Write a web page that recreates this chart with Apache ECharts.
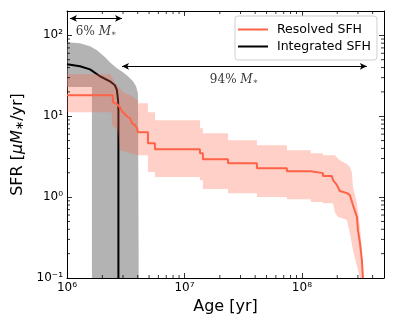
<!DOCTYPE html>
<html>
<head>
<meta charset="utf-8">
<script src="https://cdn.jsdelivr.net/npm/echarts@6/dist/echarts.min.js"></script>
<style>
  html, body { margin: 0; padding: 0; background: #fff; }
  #chart { width: 395px; height: 329px; }
</style>
</head>
<body>
<div id="chart"></div>
<script>
// resolved SFH (red step line) and its band
const resolvedAge = [1.0e6, 2.46e6, 2.46e6, 2.66e6, 2.83e6, 2.94e6, 3.06e6, 3.24e6, 3.44e6, 3.57e6, 3.79e6, 3.94e6, 4.02e6,
  4.89e6, 4.89e6, 5.61e6, 5.61e6, 1.355e7, 1.355e7, 1.436e7, 1.436e7, 2.35e7, 2.35e7, 4.14e7, 4.14e7, 7.45e7, 7.45e7,
  1.19e8, 1.19e8, 1.51e8, 1.51e8, 1.80e8, 1.84e8, 1.99e8, 2.10e8, 2.42e8, 2.56e8, 2.72e8, 2.94e8, 3.00e8, 3.12e8, 3.24e8, 3.31e8]
const resolvedSfr = [18.2, 18.2, 14.9, 14.1, 12.9, 11.5, 10.9, 10.0, 9.44, 8.20, 7.75, 7.11, 6.34,
  6.34, 4.64, 4.64, 3.92, 3.92, 3.49, 3.49, 2.94, 2.94, 2.63, 2.63, 2.28, 2.28, 2.09,
  2.09, 1.98, 1.98, 1.82, 1.82, 1.62, 1.41, 1.19, 1.12, 1.06, 0.80, 0.57, 0.39, 0.27, 0.167, 0.1]
const resolvedUpper = [[1e6, 33.0], [2.32e6, 33.0], [2.46e6, 29.5], [2.56e6, 25.5], [2.83e6, 22.2], [3.00e6, 19.8],
  [3.44e6, 18.2], [4.02e6, 15.8], [4.02e6, 14.5], [4.89e6, 14.5], [4.89e6, 11.2], [5.61e6, 11.2], [5.61e6, 8.93],
  [1.355e7, 8.93], [1.355e7, 7.11], [1.436e7, 7.11], [1.436e7, 6.17], [2.35e7, 6.17], [2.35e7, 5.06], [4.14e7, 5.06],
  [4.14e7, 4.39], [7.45e7, 4.39], [7.45e7, 3.80], [1.19e8, 3.80], [1.19e8, 3.49], [1.51e8, 3.49], [1.51e8, 3.30],
  [1.91e8, 3.30], [2.10e8, 2.86], [2.42e8, 2.56], [2.56e8, 2.35], [2.67e8, 1.98], [2.72e8, 1.33], [2.94e8, 0.84],
  [3.12e8, 0.43], [3.24e8, 0.22], [3.31e8, 0.1]]
const resolvedLower = [[1e6, 11.2], [2.41e6, 11.2], [2.41e6, 7.75], [2.72e6, 6.71], [2.83e6, 3.80], [4.02e6, 3.30],
  [4.89e6, 3.30], [4.89e6, 2.04], [5.61e6, 2.04], [5.61e6, 1.77], [1.355e7, 1.77], [1.355e7, 1.62], [1.436e7, 1.62],
  [1.436e7, 1.26], [2.35e7, 1.26], [2.35e7, 1.12], [4.14e7, 1.12], [4.14e7, 1.00], [7.45e7, 1.00], [7.45e7, 0.944],
  [1.19e8, 0.944], [1.19e8, 0.87], [1.51e8, 0.87], [1.51e8, 0.84], [1.84e8, 0.84], [1.91e8, 0.65], [2.02e8, 0.57],
  [2.42e8, 0.52], [2.56e8, 0.36], [2.72e8, 0.22], [3.00e8, 0.126], [3.12e8, 0.1]]

// integrated SFH (black line) and its band
const integratedAge = [1e6, 1.29e6, 1.57e6, 1.91e6, 2.32e6, 2.56e6, 2.66e6, 2.72e6, 2.74e6, 2.74e6]
const integratedSfr = [43.8, 41.4, 38.0, 31.2, 27.0, 24.1, 21.0, 15.8, 11.9, 0.1]
const integratedUpper = [[1e6, 82], [1.29e6, 79.6], [1.57e6, 73.1], [1.80e6, 65.3], [2.11e6, 53.5], [2.32e6, 46.4],
  [2.66e6, 39.2], [3.00e6, 34.9], [3.30e6, 31.2], [3.65e6, 27.0], [3.87e6, 23.4], [4.02e6, 19.2], [4.08e6, 0.1]]
const integratedLower = [[1e6, 23], [1.63e6, 23], [1.63e6, 0.1], [4.08e6, 0.1]]

// mass fraction notes
const noteText = ['6%', '94%']
const noteAge = [1.77e6, 2.64e7]
const noteSfr = [109, 27.8]
const arrowFrom = [1.06e6, 2.94e6]
const arrowTo = [2.94e6, 3.57e8]
const arrowSfr = [162, 41.4]

// ticks
const xTickValues = [1e6, 1e7, 1e8]
const xTickLabels = ['10⁶', '10⁷', '10⁸']
const yTickValues = [0.1, 1, 10, 100]
const yTickLabels = ['10⁻¹', '10⁰', '10¹', '10²']
const xMinorTicks = [2e6, 3e6, 4e6, 5e6, 6e6, 7e6, 8e6, 9e6, 2e7, 3e7, 4e7, 5e7, 6e7, 7e7, 8e7, 9e7, 2e8, 3e8, 4e8]
const yMinorTicks = [0.2, 0.3, 0.4, 0.5, 0.6, 0.7, 0.8, 0.9, 2, 3, 4, 5, 6, 7, 8, 9, 20, 30, 40, 50, 60, 70, 80, 90]

const RED = '#ff6347'
const SANS = 'DejaVu Sans'
const SERIF = 'DejaVu Serif'

const zip = (a, b) => a.map((v, i) => [v, b[i]])

const tickLabel = (values, labels) => v => {
  const i = values.findIndex(t => Math.abs(v / t - 1) < 1e-6)
  return i < 0 ? '' : labels[i]
}

const band = (upper, lower, color) => (params, api) => ({
  type: 'polygon',
  shape: {points: upper.concat(lower.slice().reverse()).map(p => api.coord(p))},
  style: {fill: color}
})

const tick = (x1, y1, x2, y2) => ({
  type: 'line',
  shape: {x1, y1, x2, y2},
  style: {stroke: '#000', lineWidth: 0.8}
})

const minorTicks = (params, api) => {
  const cs = params.coordSys
  const top = cs.y, bottom = cs.y + cs.height, left = cs.x, right = cs.x + cs.width
  const children = []
  xMinorTicks.forEach(v => {
    const x = api.coord([v, 1])[0]
    children.push(tick(x, bottom, x, bottom - 3), tick(x, top, x, top + 3))
  })
  yMinorTicks.forEach(v => {
    const y = api.coord([1e6, v])[1]
    children.push(tick(left, y, left + 3, y), tick(right, y, right - 3, y))
  })
  return {type: 'group', children}
}

const axisCommon = {
  type: 'log',
  logBase: 10,
  axisLine: {show: true, onZero: false, lineStyle: {color: '#000', width: 1}},
  axisTick: {show: true, inside: true, length: 5, lineStyle: {color: '#000', width: 0.8}},
  splitLine: {show: false}
}

const charts = echarts.init(document.getElementById('chart'), null, {renderer: 'canvas'})

const options = {
  animation: false,
  grid: {left: 67, right: 11, top: 11, bottom: 51},
  legend: {
    data: ['Resolved SFH', 'Integrated SFH'],
    orient: 'vertical',
    left: 235,
    top: 16,
    padding: [7, 6, 7, 3],
    icon: 'rect',
    itemGap: 4,
    itemWidth: 30,
    itemHeight: 2,
    borderColor: '#d0d0d0',
    borderWidth: 1,
    borderRadius: 3,
    backgroundColor: 'rgba(255,255,255,0.8)',
    textStyle: {fontFamily: SANS, fontSize: 12.5, color: '#000', padding: [0, 0, 0, 4]}
  },
  xAxis: [
    {
      ...axisCommon,
      min: 1e6,
      max: 5e8,
      name: 'Age [yr]',
      nameLocation: 'middle',
      nameGap: 11,
      nameTextStyle: {fontFamily: SANS, fontSize: 16, color: '#000'},
      axisLabel: {formatter: tickLabel(xTickValues, xTickLabels), fontFamily: SANS, fontSize: 12, color: '#000', margin: 4}
    },
    {...axisCommon, min: 1e6, max: 5e8, position: 'top', axisLabel: {show: false}}
  ],
  yAxis: [
    {
      ...axisCommon,
      min: 0.1,
      max: 200,
      name: 'SFR [{i|μM}{s|∗}/yr]',
      nameLocation: 'middle',
      nameGap: 36,
      nameRotate: 90,
      nameTextStyle: {
        fontFamily: SANS, fontSize: 16, color: '#000',
        rich: {
          i: {fontFamily: SANS, fontStyle: 'italic', fontSize: 16, color: '#000'},
          s: {fontFamily: SANS, fontSize: 11, color: '#000', verticalAlign: 'bottom'}
        }
      },
      axisLabel: {formatter: tickLabel(yTickValues, yTickLabels), fontFamily: SANS, fontSize: 12, color: '#000', margin: 4}
    },
    {...axisCommon, min: 0.1, max: 200, position: 'right', axisLabel: {show: false}}
  ],
  series: [
    {
      name: 'integratedBand',
      type: 'custom',
      silent: true,
      z: 1,
      renderItem: band(integratedUpper, integratedLower, 'rgba(128,128,128,0.6)'),
      data: [integratedUpper[0]]
    },
    {
      name: 'Integrated SFH',
      type: 'line',
      z: 2,
      symbol: 'none',
      silent: true,
      color: '#000',
      lineStyle: {color: '#000', width: 2},
      data: zip(integratedAge, integratedSfr)
    },
    {
      name: 'resolvedBand',
      type: 'custom',
      silent: true,
      z: 3,
      renderItem: band(resolvedUpper, resolvedLower, 'rgba(255,99,71,0.3)'),
      data: [resolvedUpper[0]]
    },
    {
      name: 'Resolved SFH',
      type: 'line',
      z: 4,
      symbol: 'none',
      silent: true,
      color: RED,
      lineStyle: {color: RED, width: 2},
      data: zip(resolvedAge, resolvedSfr)
    },
    {
      name: 'minorTicks',
      type: 'custom',
      silent: true,
      z: 5,
      renderItem: minorTicks,
      data: [[1e6, 1]]
    },
    {
      name: 'notes',
      type: 'scatter',
      silent: true,
      z: 6,
      symbolSize: 0,
      data: zip(noteAge, noteSfr),
      label: {
        show: true,
        position: 'inside',
        formatter: p => `{n|${noteText[p.dataIndex]} }{m|M}{s|∗}`,
        rich: {
          n: {fontFamily: SERIF, fontSize: 12, color: '#000'},
          m: {fontFamily: SERIF, fontStyle: 'italic', fontSize: 12, color: '#000'},
          s: {fontFamily: SERIF, fontSize: 8, color: '#000', verticalAlign: 'bottom'}
        }
      },
      markLine: {
        silent: true,
        symbol: ['arrow', 'arrow'],
        symbolSize: [5, 7],
        label: {show: false},
        lineStyle: {color: '#000', width: 1, type: 'solid'},
        data: arrowFrom.map((a, i) => [{coord: [a, arrowSfr[i]]}, {coord: [arrowTo[i], arrowSfr[i]]}])
      }
    }
  ]
}

charts.setOption(options)
</script>
</body>
</html>
